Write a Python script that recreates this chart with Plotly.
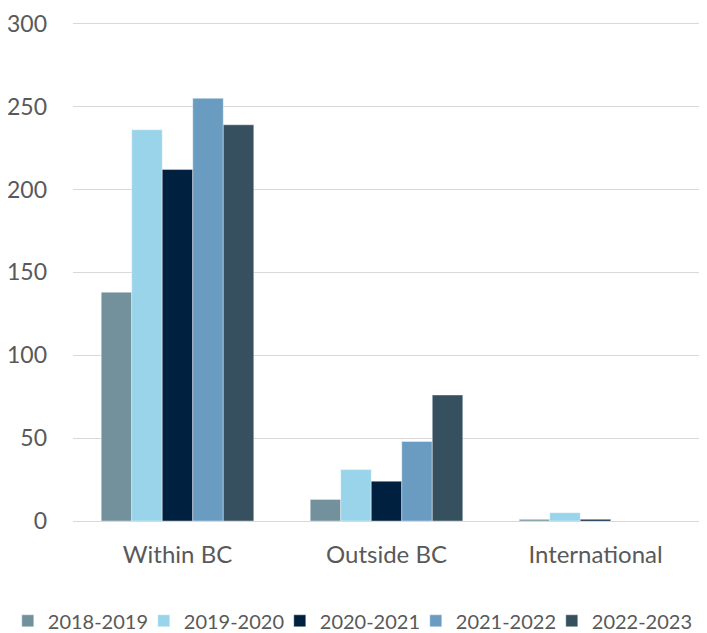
import plotly.graph_objects as go

categories = ["Within BC", "Outside BC", "International"]
series_names = ["2018-2019", "2019-2020", "2020-2021", "2021-2022", "2022-2023"]
v_2018_2019 = [138, 13, 1]
v_2019_2020 = [236, 31, 5]
v_2020_2021 = [212, 24, 1]
v_2021_2022 = [255, 48, 0]
v_2022_2023 = [239, 76, 0]
colors = ["#72919c", "#99d4ea", "#002040", "#6a9bc0", "#37505f"]
y_ticks = [0, 50, 100, 150, 200, 250, 300]

series_values = [v_2018_2019, v_2019_2020, v_2020_2021, v_2021_2022, v_2022_2023]

fig = go.Figure()
n = len(series_names)
for i, (name, vals, col) in enumerate(zip(series_names, series_values, colors)):
    fig.add_trace(go.Bar(
        x=categories, y=vals, name=name,
        marker=dict(color=col, line=dict(color="rgba(255,255,255,0.5)", width=0.8)),
        legendwidth=(100 if i == n - 1 else 91),
    ))

fig.update_layout(
    width=699, height=625,
    barmode="group", bargap=0.27, bargroupgap=0,
    plot_bgcolor="white", paper_bgcolor="white",
    margin=dict(l=65, r=7, t=14, b=112, autoexpand=False),
    font=dict(family="Lato, 'Open Sans', sans-serif", size=24, color="#595959"),
    showlegend=True,
    legend=dict(orientation="h", x=-0.104, xanchor="left",
                y=-0.2, yanchor="middle",
                font=dict(size=20, color="#595959"), itemwidth=30,
                traceorder="normal", tracegroupgap=0),
    xaxis=dict(showgrid=False, showline=False, ticks="", automargin=False,
               tickfont=dict(size=24), ticklabelstandoff=17),
    yaxis=dict(range=[0, 301], tickvals=y_ticks, showgrid=True, gridcolor="#d9d9d9",
               gridwidth=1, zeroline=True, zerolinecolor="#d9d9d9", zerolinewidth=1,
               showline=False, ticks="", automargin=False,
               tickfont=dict(size=23), ticklabelstandoff=25),
)

fig.write_html("out.html")
